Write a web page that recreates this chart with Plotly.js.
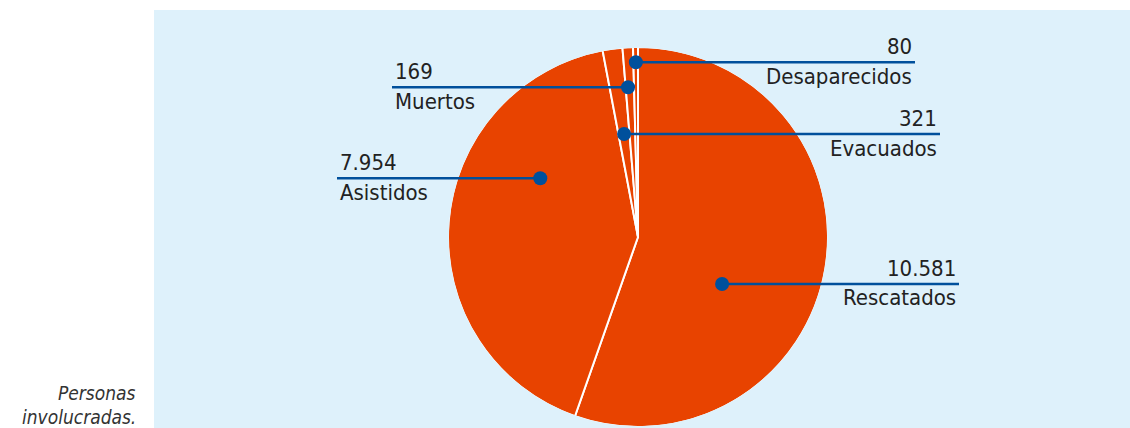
<!DOCTYPE html>
<html><head><meta charset="utf-8">
<script src="https://cdn.plot.ly/plotly-3.0.1.min.js"></script>
<style>html,body{margin:0;padding:0;background:#fff}#chart{width:1130px;height:428px}</style>
</head><body><div id="chart"></div>
<script>
// ---- data ----
const categories = ["Rescatados", "Asistidos", "Evacuados", "Muertos", "Desaparecidos"];
const values = [10581, 7954, 321, 169, 80];
const valueLabels = ["10.581", "7.954", "321", "169", "80"];
const captionLines = ["Personas", "involucradas."];

// ---- layout (pixels) ----
const W = 1130, H = 428;
const CX = 638, CY = 237, R = 190;
const ORANGE = "#E84300", BLUE = "#00509C", BG = "#DEF1FB", TXT = "#222222";
const FONT = "DejaVu Sans Condensed, DejaVu Sans, sans-serif";
// leader anchors: angle (deg clockwise from 12 o'clock) and radius fraction; line end x
const leaders = [
  {ang: 119.2, rf: 0.507, end: 959, align: "right"},
  {ang: 301.0, rf: 0.600, end: 337, align: "left"},
  {ang: 352.3, rf: 0.547, end: 940, align: "right"},
  {ang: 356.2, rf: 0.790, end: 392, align: "left"},
  {ang: 359.3, rf: 0.920, end: 915, align: "right"}
];

const fx = x => x / W;
const fy = y => 1 - y / H;

const shapes = [{
  type: "rect", xref: "paper", yref: "paper", layer: "below",
  x0: fx(154), x1: 1, y0: 0, y1: fy(10),
  fillcolor: BG, line: {width: 0}
}, {
  // hide the white outer rim of the pie (separators only in the reference)
  type: "circle", xref: "paper", yref: "paper", layer: "above",
  x0: fx(CX - R - 0.5), x1: fx(CX + R + 0.5), y0: fy(CY + R + 0.5), y1: fy(CY - R - 0.5),
  fillcolor: "rgba(0,0,0,0)", line: {color: BG, width: 2.5}
}];
const annotations = [];

categories.forEach((c, i) => {
  const L = leaders[i];
  const a = L.ang * Math.PI / 180;
  const dx = CX + L.rf * R * Math.sin(a);
  const dy = CY - L.rf * R * Math.cos(a);
  shapes.push({type: "line", xref: "paper", yref: "paper", layer: "above",
    x0: fx(dx), x1: fx(L.end), y0: fy(dy), y1: fy(dy),
    line: {color: BLUE, width: 2.5}});
  shapes.push({type: "circle", xref: "paper", yref: "paper", layer: "above",
    x0: fx(dx - 7), x1: fx(dx + 7), y0: fy(dy + 7), y1: fy(dy - 7),
    fillcolor: BLUE, line: {width: 0}});
  const tx = L.align === "right" ? L.end - 1 : L.end + 1;
  annotations.push({xref: "paper", yref: "paper", x: fx(tx), y: fy(dy - 15.5),
    xanchor: L.align, yanchor: "middle", showarrow: false, text: valueLabels[i],
    font: {family: FONT, size: 22, color: TXT}});
  annotations.push({xref: "paper", yref: "paper", x: fx(tx), y: fy(dy + 14),
    xanchor: L.align, yanchor: "middle", showarrow: false, text: c,
    font: {family: FONT, size: 22, color: TXT}});
});

annotations.push({xref: "paper", yref: "paper", x: fx(138), y: fy(393), xanchor: "right", yanchor: "middle",
  showarrow: false, text: "<i>" + captionLines[0] + "</i>", font: {family: FONT, size: 19, color: "#333"}});
annotations.push({xref: "paper", yref: "paper", x: fx(138), y: fy(417), xanchor: "right", yanchor: "middle",
  showarrow: false, text: "<i>" + captionLines[1] + "</i>", font: {family: FONT, size: 19, color: "#333"}});

const trace = {
  type: "pie", labels: categories, values: values, sort: false,
  direction: "clockwise", rotation: 0,
  marker: {colors: categories.map(() => ORANGE), line: {color: "#FFFFFF", width: 2}},
  textinfo: "none", hoverinfo: "none", showlegend: false,
  domain: {x: [fx(CX - R), fx(CX + R)], y: [fy(CY + R), fy(CY - R)]}
};

Plotly.newPlot("chart", [trace], {
  width: W, height: H, margin: {l: 0, r: 0, t: 0, b: 0},
  paper_bgcolor: "#FFFFFF", showlegend: false,
  shapes: shapes, annotations: annotations
}, {staticPlot: true});
</script></body></html>
